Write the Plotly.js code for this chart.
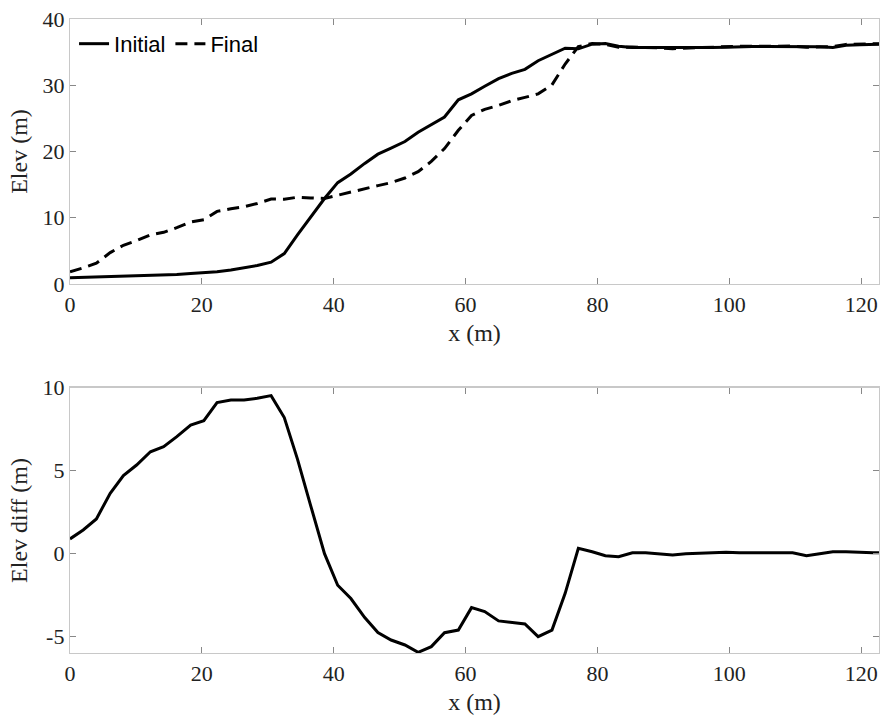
<!DOCTYPE html>
<html>
<head>
<meta charset="utf-8">
<script src="https://cdn.plot.ly/plotly-3.0.1.min.js"></script>
<style>html,body{margin:0;padding:0;background:#fff;}#chart{width:880px;height:715px;}</style>
</head>
<body>
<div id="chart"></div>
<script>
// x positions along the profile (m)
const xPos = [0,2,4,6.1,8.1,10.1,12.2,14.2,16.2,18.3,20.3,22.3,24.4,26.4,28.4,30.5,32.5,34.5,36.5,38.6,
  40.6,42.6,44.7,46.7,48.7,50.8,52.8,54.8,56.8,58.9,60.9,62.9,65,67,69,71,73.1,75.1,77.1,79.2,
  81.2,83.2,85.3,87.3,89.3,91.4,93.4,95.4,97.4,99.5,101.5,103.5,105.6,107.6,109.6,111.7,113.7,115.7,117.7,119.8,
  121.8,123.8];
// initial elevation (m)
const elevInitial = [0.95,1.0,1.05,1.1,1.15,1.2,1.28,1.35,1.45,1.6,1.7,1.86,2.1,2.4,2.8,3.3,4.6,7.4,10.1,12.9,
  15.3,16.6,18.2,19.6,20.5,21.5,22.9,24.1,25.2,27.8,28.7,29.85,31.0,31.8,32.4,33.7,34.65,35.6,35.5,36.2,
  36.3,35.9,35.7,35.7,35.65,35.6,35.6,35.65,35.7,35.75,35.85,35.85,35.85,35.85,35.85,35.85,35.8,35.7,36.05,36.1,
  36.2,36.25];
// final elevation (m)
const elevFinal = [1.84,2.43,3.14,4.74,5.85,6.54,7.42,7.8,8.5,9.35,9.71,10.96,11.36,11.66,12.16,12.82,12.8,13.1,13.0,12.9,
  13.4,13.9,14.35,14.85,15.3,16.0,16.96,18.5,20.44,23.2,25.45,26.36,26.95,27.67,28.17,28.7,30.05,33.21,35.83,36.32,
  36.18,35.72,35.76,35.75,35.65,35.52,35.6,35.67,35.73,35.83,35.9,35.89,35.88,35.9,35.91,35.73,35.8,35.82,36.17,36.18,
  36.26,36.31];
// elevation difference (m)
const elevDiff = [0.89,1.43,2.09,3.64,4.7,5.34,6.14,6.45,7.05,7.75,8.01,9.1,9.26,9.26,9.36,9.52,8.2,5.7,2.9,0.0,
  -1.9,-2.7,-3.85,-4.75,-5.2,-5.5,-5.94,-5.6,-4.76,-4.6,-3.25,-3.49,-4.05,-4.13,-4.23,-5.0,-4.6,-2.39,0.33,0.12,
  -0.12,-0.18,0.06,0.05,0.0,-0.08,0.0,0.02,0.03,0.08,0.05,0.04,0.03,0.05,0.06,-0.12,0.0,0.12,0.12,0.08,
  0.06,0.06];
// tick values and labels
const xTicks = [0, 20, 40, 60, 80, 100, 120];
const yTicksTop = [0, 10, 20, 30, 40];
const yTicksBottom = [-5, 0, 5, 10];
const yTickTextBottom = ['-5', '0', '5', '10'];

const serif = 'Liberation Serif, Times New Roman, serif';
const traces = [
  {x: xPos, y: elevInitial, type: 'scatter', mode: 'lines', name: 'Initial',
   line: {color: '#000', width: 3}, xaxis: 'x', yaxis: 'y'},
  {x: xPos, y: elevFinal, type: 'scatter', mode: 'lines', name: 'Final',
   line: {color: '#000', width: 3, dash: '12px,7px'}, xaxis: 'x', yaxis: 'y'},
  {x: xPos, y: elevDiff, type: 'scatter', mode: 'lines', name: 'Diff', showlegend: false,
   line: {color: '#000', width: 3}, xaxis: 'x2', yaxis: 'y2'}
];

const axCommon = {
  showgrid: false, zeroline: false, showline: true, mirror: 'ticks',
  linecolor: '#c8c8c8', linewidth: 1.2, ticks: 'inside', ticklen: 6, tickcolor: '#888',
  tickfont: {family: serif, size: 22, color: '#222'}
};
const titleFont = {family: serif, size: 24, color: '#222'};

const layout = {
  width: 880, height: 715,
  margin: {l: 70, r: 1, t: 0, b: 0},
  paper_bgcolor: '#fff', plot_bgcolor: '#fff',
  showlegend: true,
  legend: {x: 0.005, y: 0.968, xanchor: 'left', yanchor: 'top', orientation: 'h',
           font: {family: 'Liberation Sans, Arial, sans-serif', size: 22, color: '#000'},
           bgcolor: 'rgba(0,0,0,0)', itemwidth: 30, tracegroupgap: 0},
  xaxis: Object.assign({}, axCommon, {domain: [0, 1], range: [0, 122.7], anchor: 'y',
    tickvals: xTicks,
    title: {text: 'x (m)', font: titleFont, standoff: 8}}),
  yaxis: Object.assign({}, axCommon, {domain: [0.6028, 0.9734], range: [0, 40], anchor: 'x',
    tickvals: yTicksTop,
    title: {text: 'Elev (m)', font: titleFont, standoff: 8}}),
  xaxis2: Object.assign({}, axCommon, {domain: [0, 1], range: [0, 122.7], anchor: 'y2',
    tickvals: xTicks,
    title: {text: 'x (m)', font: titleFont, standoff: 8}}),
  yaxis2: Object.assign({}, axCommon, {domain: [0.0863, 0.4578], range: [-6, 10], anchor: 'x2',
    tickvals: yTicksBottom, ticktext: yTickTextBottom,
    title: {text: 'Elev diff (m)', font: titleFont, standoff: 8}})
};

Plotly.newPlot('chart', traces, layout, {displayModeBar: false, staticPlot: true});
</script>
</body>
</html>
